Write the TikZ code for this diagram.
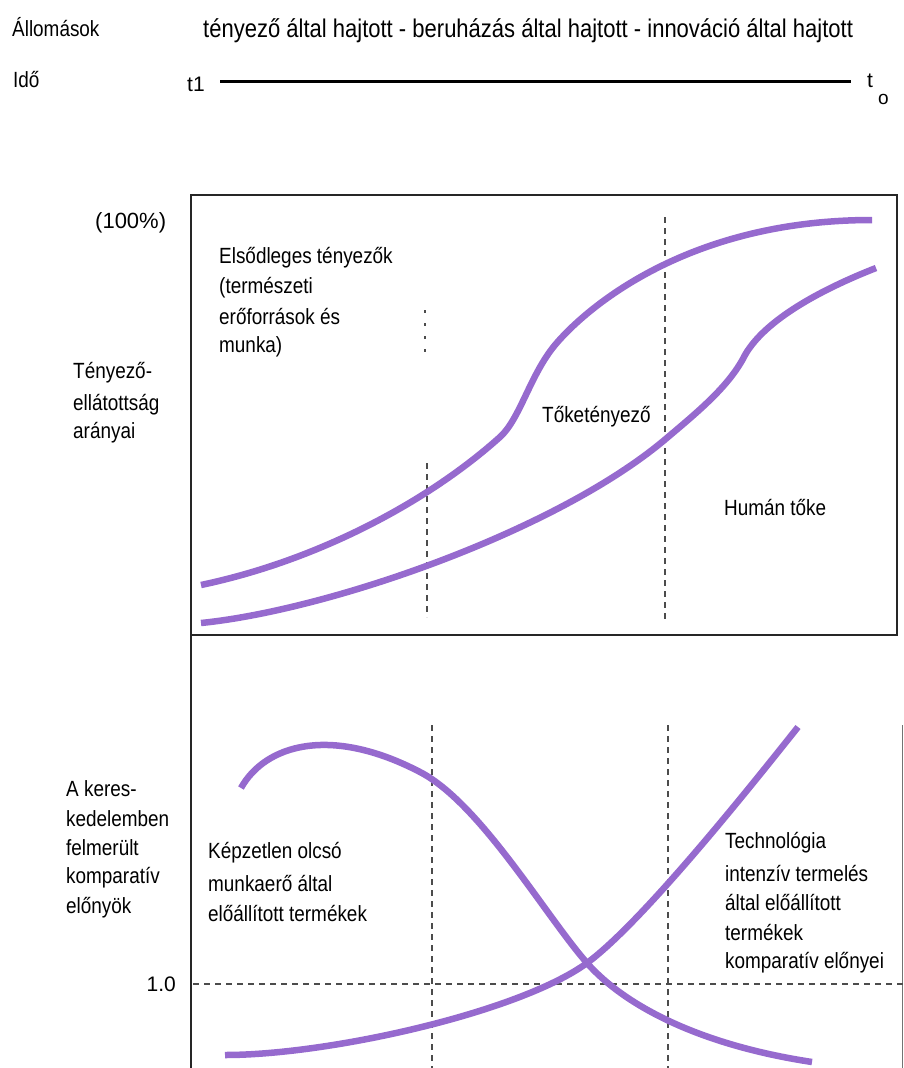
\documentclass[tikz,border=0pt]{standalone}
\usepackage{fontspec}
\setmainfont{Liberation Sans}[FakeStretch=0.86]
\newfontfamily\plainsans{Liberation Sans}
\begin{document}
\begin{tikzpicture}[x=1pt,y=-1pt,
  lbl/.style={anchor=west,inner sep=0pt,font=\fontsize{22}{22}\selectfont},
  num/.style={anchor=west,inner sep=0pt,font=\plainsans\fontsize{21}{21}\selectfont},
  curve/.style={line width=6.5pt,color=curvecol,line cap=butt,line join=round},
  guide/.style={dashed,dash pattern=on 6pt off 5pt,line width=1.3pt,color=black!70},
  frame/.style={line width=1.6pt,color=black!85}]
\definecolor{curvecol}{RGB}{150,106,206}
\useasboundingbox (0,0) rectangle (903,1068);
% header
\node[lbl] (stat) at (12,27) {Állomások};
\node[lbl,font=\fontsize{25.6}{26}\selectfont] (stages) at (203,31) {tényező által hajtott - beruházás által hajtott - innováció által hajtott};
\node[lbl] (ido) at (13,80) {Idő};
\node[num] (t1) at (187,84) {t1};
\node[num] (to) at (867,81) {t};
\node[num,font=\plainsans\fontsize{19}{19}\selectfont] (tosub) at (878,99) {o};
\coordinate (ta) at (220,81);
\coordinate (tb) at (851,81);
\draw[line width=3pt] (ta) -- (tb);
% top panel frame
\draw[frame] (191,195) rectangle (897,635);
% bottom panel edges
\draw[frame] (191,635) -- (191,1068);
\draw[line width=0.8pt,color=black!55] (902,725) -- (902,1068);
% labels top
\node[num,font=\plainsans\fontsize{22}{22}\selectfont] (hundred) at (95,223) {(100\%)};
\node[lbl] (e1) at (219,258) {Elsődleges tényezők};
\node[lbl] (e2) at (219,288) {(természeti};
\node[lbl] (e3) at (219,317) {erőforrások és};
\node[lbl] (e4) at (219,347) {munka)};
\node[lbl] (y1) at (73,373) {Tényező-};
\node[lbl] (y2) at (73,405) {ellátottság};
\node[lbl] (y3) at (73,433) {arányai};
\node[lbl] (tok) at (542,417) {Tőketényező};
\node[lbl] (hum) at (724,508) {Humán tőke};
% dashed guides top
\draw[guide] (427,463) -- (427,617);
\draw[guide,dash pattern=on 3pt off 10pt] (425,310) -- (425,354);
\draw[guide] (665,217) -- (665,622);
% curves top
\draw[curve] (201,585) .. controls (320,560) and (430,500) .. (500,437)
  .. controls (520,419) and (530,375) .. (555,345)
  .. controls (580,315) and (680,220) .. (872,220);
\draw[curve] (201,623) .. controls (330,610) and (560,530) .. (668,437)
  .. controls (700,410) and (730,385) .. (745,355)
  .. controls (765,320) and (820,290) .. (876,268);
% bottom panel
\draw[guide] (432,725) -- (432,1068);
\draw[guide] (668,725) -- (668,1068);
\draw[guide] (193,984) -- (903,984);
\node[num,anchor=east] (one) at (176,984) {1.0};
\node[lbl] (a1) at (66,789) {A keres-};
\node[lbl] (a2) at (66,819) {kedelemben};
\node[lbl] (a3) at (66,848) {felmerült};
\node[lbl] (a4) at (66,878) {komparatív};
\node[lbl] (a5) at (66,908) {előnyök};
\node[lbl] (k1) at (208,853) {Képzetlen olcsó};
\node[lbl] (k2) at (208,883) {munkaerő által};
\node[lbl] (k3) at (208,913) {előállított termékek};
\node[lbl] (t1b) at (725,843) {Technológia};
\node[lbl] (t2b) at (725,873) {intenzív termelés};
\node[lbl] (t3b) at (725,902) {által előállított};
\node[lbl] (t4b) at (725,932) {termékek};
\node[lbl] (t5b) at (725,963) {komparatív előnyei};
\draw[curve] (241,788) .. controls (265,745) and (330,725) .. (420,772)
  .. controls (480,803) and (545,915) .. (587,963)
  .. controls (625,1006) and (700,1045) .. (812,1062);
\draw[curve] (225,1055) .. controls (330,1055) and (520,1012) .. (587,963)
  .. controls (640,924) and (740,800) .. (798,727);
\end{tikzpicture}
\end{document}
